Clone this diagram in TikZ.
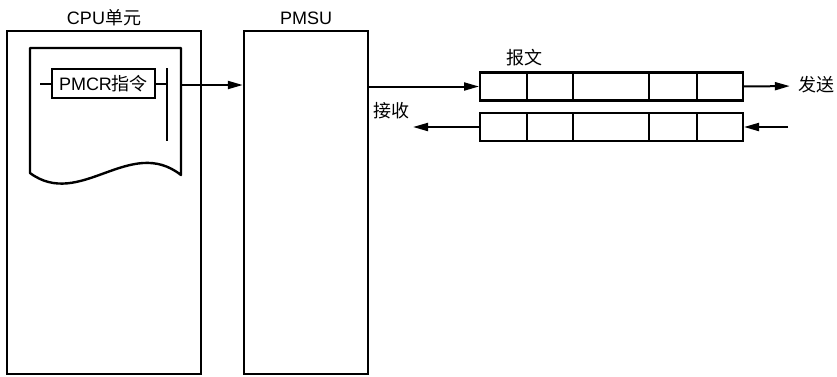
\documentclass[tikz,border=0pt]{standalone}
\usepackage{fontspec}
\setmainfont{Liberation Sans}
\newfontfamily\cjk{Noto Sans CJK SC}
\usetikzlibrary{arrows.meta,positioning}
\tikzset{
  unit/.style  = {rectangle, draw=black, line width=2.4pt, inner sep=0pt,
                  minimum height=343pt},
  instr/.style = {rectangle, draw=black, line width=2.2pt, inner sep=0pt,
                  minimum width=103pt, minimum height=29pt,
                  font=\fontsize{18}{20}\selectfont},
  cell/.style  = {rectangle, draw=black, line width=2.2pt, inner sep=0pt,
                  outer sep=0pt, minimum height=28pt},
  lbl/.style   = {inner sep=2pt, text height=13pt, text depth=3pt,
                  font=\fontsize{18}{20}\selectfont},
  sheet/.style = {line width=2.4pt, line join=round},
  wire/.style  = {line width=2pt},
  bar/.style   = {line width=2.8pt},
  arr/.style   = {-{Triangle[length=15pt,width=8pt]}, line width=2pt},
}
\begin{document}
\begin{tikzpicture}[x=1pt, y=-1pt]
\useasboundingbox (0,0) rectangle (837,376);

%% CPU unit with ladder sheet
\node[unit, minimum width=194pt] (cpu_box) at (104,202.5) {};
\node[lbl, above=0pt of cpu_box] (cpu_lbl) {CPU{\cjk 单元}};
\draw[sheet] (30,173) -- (30,48) -- (181,48) -- (181,175)
      .. controls (130,135) and (80,210) .. (30,173) -- (30,170);
\node[instr] (pmcr) at (103.5,83.5) {PMCR{\cjk 指令}};
\coordinate (rung_in) at (40,83.5);
\coordinate (bar_top) at (167,68);
\coordinate (bar_bot) at (167,141);
\coordinate (sheet_out) at (181,85);

%% PMSU
\node[unit, minimum width=124pt] (pmsu_box) at (306,202.5) {};
\node[lbl, above=0pt of pmsu_box] (pmsu_lbl) {PMSU};

%% Message frames
\node[cell, minimum width=47pt] (msg_s1) at (503.5,86.5) {};
\node[cell, minimum width=46pt, right=0pt of msg_s1] (msg_s2) {};
\node[cell, minimum width=76pt, right=0pt of msg_s2] (msg_s3) {};
\node[cell, minimum width=48pt, right=0pt of msg_s3] (msg_s4) {};
\node[cell, minimum width=46pt, right=0pt of msg_s4] (msg_s5) {};

\node[cell, minimum width=47pt] (msg_r1) at (503.5,127) {};
\node[cell, minimum width=46pt, right=0pt of msg_r1] (msg_r2) {};
\node[cell, minimum width=76pt, right=0pt of msg_r2] (msg_r3) {};
\node[cell, minimum width=48pt, right=0pt of msg_r3] (msg_r4) {};
\node[cell, minimum width=46pt, right=0pt of msg_r4] (msg_r5) {};

\node[lbl] (msg_lbl)  at (524,59)  {\cjk 报文};
\node[lbl] (send_lbl) at (816,86)  {\cjk 发送};
\node[lbl] (recv_lbl) at (391,112) {\cjk 接收};
\coordinate (rcv_in)  at (788,127);
\coordinate (rcv_out) at (413,127);

%% Arrows
\draw[wire] (rung_in) -- (pmcr.west);
\draw[wire] (pmcr.east) -- (bar_top |- pmcr.east);
\draw[bar]  (bar_top) -- (bar_bot);
\draw[arr]  (sheet_out) -- (sheet_out -| pmsu_box.west);
\draw[arr, shorten >=1pt] (pmsu_box.east |- msg_s1.west) -- (msg_s1.west);
\draw[arr, shorten >=6pt] (msg_s5.east) -- (send_lbl.west);
\draw[arr, shorten >=1pt] (rcv_in) -- (msg_r5.east);
\draw[arr]  (msg_r1.west) -- (rcv_out);

\end{tikzpicture}
\end{document}
